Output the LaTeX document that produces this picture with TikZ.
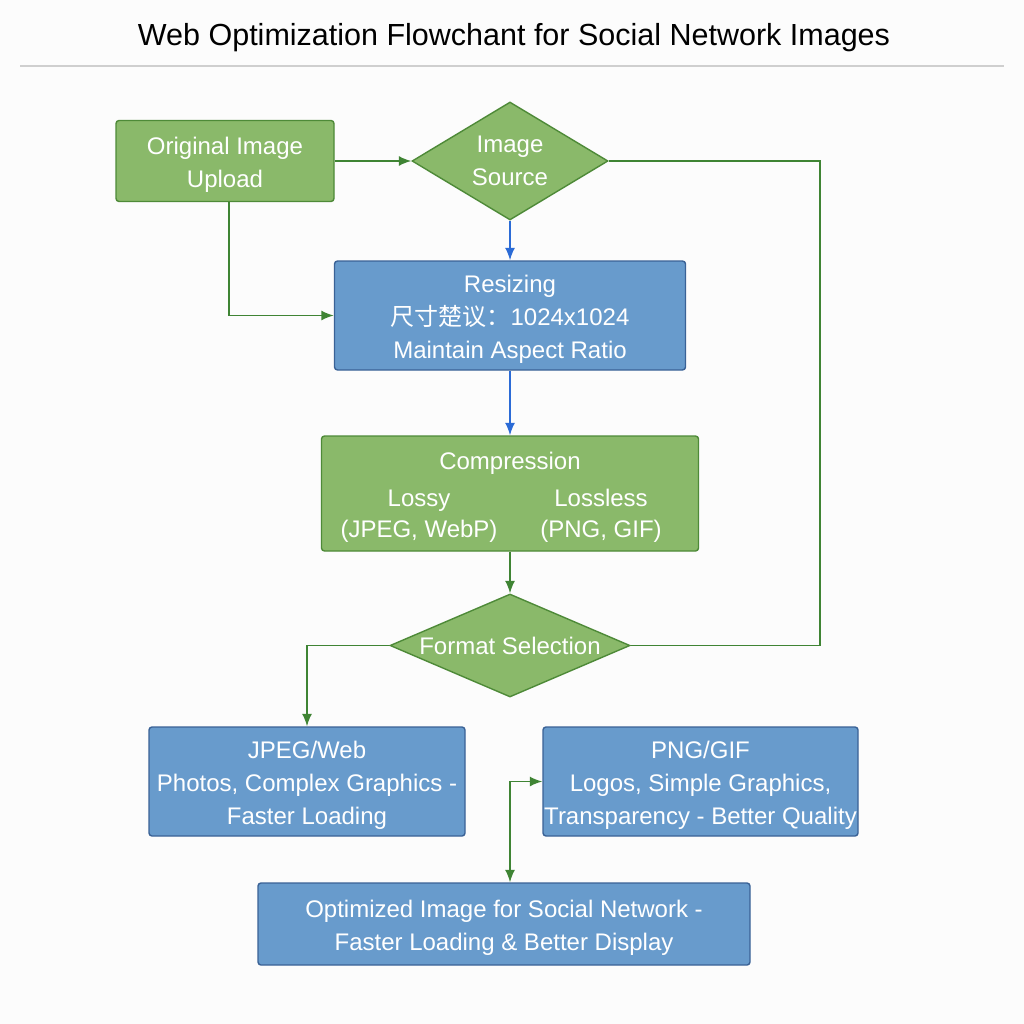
\documentclass[tikz,border=0pt]{standalone}
\usepackage{fontspec}
\setmainfont{Liberation Sans}
\newfontfamily\cjk{Noto Sans CJK SC}
\usepackage{tikz}
\usetikzlibrary{calc}
\usetikzlibrary{arrows.meta}
\usetikzlibrary{shapes.geometric}
\tikzset{every picture/.style={semithick, >={Latex[length=12.5pt,width=10pt]}}}
\definecolor{paper}{HTML}{FCFCFC}
\definecolor{ruleGray}{HTML}{CFCFCF}
\definecolor{leafFill}{HTML}{8AB96A}
\definecolor{leafEdge}{HTML}{4E8A38}
\definecolor{leafLine}{HTML}{3F8434}
\definecolor{skyFill}{HTML}{689BCC}
\definecolor{skyEdge}{HTML}{3A6296}
\definecolor{skyLine}{HTML}{2B6BD6}
\tikzset{greenbox/.style={draw=leafEdge, fill=leafFill, line width=1.4pt, rounded corners=3pt, text=white, align=center, inner sep=0pt}}
\tikzset{bluebox/.style={draw=skyEdge, fill=skyFill, line width=1.4pt, rounded corners=3pt, text=white, align=center, inner sep=0pt}}
\tikzset{decision/.style={diamond, draw=leafEdge, fill=leafFill, line width=1.4pt, text=white, align=center, inner sep=0pt}}
\tikzset{gline/.style={draw=leafLine, line width=1.6pt}}
\tikzset{bline/.style={draw=skyLine, line width=1.6pt}}
\newcommand{\halfcol}[1]{\makebox[182pt]{#1}}
\newcommand{\topgap}{\rule{0pt}{25pt}}

\begin{document}
\begin{tikzpicture}[x=1pt,y=-1pt,font=\fontsize{24}{33}\selectfont]
    \path[use as bounding box, fill=paper] (0,0) rectangle (1024,1024);
    \node (title) at (514,38) {\fontsize{30.5}{36}\selectfont Web Optimization Flowchant for Social Network Images};
    \draw[ruleGray, line width=1.5pt] (20,66) -- (1004,66);

    \node[greenbox, minimum width=218pt, minimum height=81pt] (up) at (225,161) {\topgap Original Image\\Upload};
    \node[decision, aspect=1.66, minimum width=196pt, minimum height=118pt] (src) at (510,161) {Image\\Source};
    \node[bluebox, minimum width=351pt, minimum height=109pt] (resize) at (510,315.5) {\topgap Resizing\\{\cjk 尺寸楚议：}1024x1024\\Maintain Aspect Ratio};
    \node[greenbox, minimum width=377pt, minimum height=115pt] (compress) at (510,493.5) {\topgap Compression\\[4pt]\halfcol{Lossy}\halfcol{Lossless}\\[-2pt]\halfcol{(JPEG, WebP)}\halfcol{(PNG, GIF)}};
    \node[decision, aspect=2.33, minimum width=240pt, minimum height=103pt] (fmt) at (510,645.5) {\makebox[150pt]{Format Selection}};
    \node[bluebox, minimum width=316pt, minimum height=109pt] (jpeg) at (307,781.5) {\topgap JPEG/Web\\Photos, Complex Graphics -\\Faster Loading};
    \node[bluebox, minimum width=315pt, minimum height=109pt] (png) at (700.5,781.5) {\topgap PNG/GIF\\Logos, Simple Graphics,\\Transparency - Better Quality};
    \node[bluebox, minimum width=492pt, minimum height=82pt] (opt) at (504,924) {\topgap Optimized Image for Social Network -\\Faster Loading \& Better Display};
    \coordinate (bend) at (820,400);

    \draw[gline, ->] (up.east) -- (src.west);
    \draw[bline, ->] (src.south) -- (resize.north);
    \draw[gline, ->] ([xshift=4pt]up.south) |- (resize.west);
    \draw[bline, ->] (resize.south) -- (compress.north);
    \draw[gline, ->] (compress.south) -- (fmt.north);
    \draw[gline] (src.east) -| (bend) |- (fmt.east);
    \draw[gline, ->] (fmt.west) -| (jpeg.north);
    \draw[gline, <->] ([xshift=6pt]opt.north) |- (png.west);
\end{tikzpicture}
\end{document}
